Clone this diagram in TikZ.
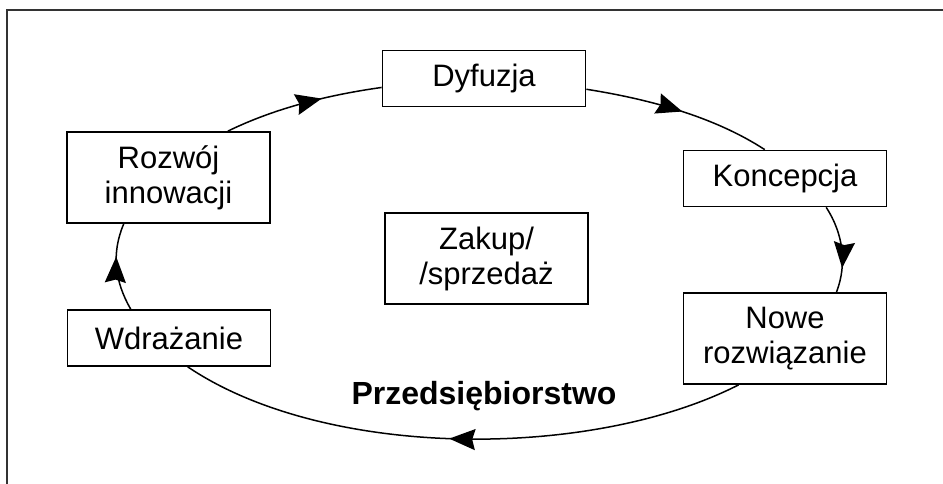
\documentclass[tikz,border=0pt]{standalone}
\usepackage{fontspec}
\setmainfont{Liberation Sans}
\usetikzlibrary{arrows.meta, positioning, decorations.markings}
\tikzset{
  stage/.style  = {draw, line width=1.7pt, minimum width=203pt, minimum height=56pt,
                   align=center, inner sep=4pt, font=\fontsize{31}{35}\selectfont},
  tall/.style   = {minimum height=91pt},
  flow/.style   = {line width=1.5pt, postaction={decorate},
                   decoration={markings, mark=at position #1 with
                     {\arrow{Stealth[length=26pt, width=21pt, inset=3pt]}}}},
  flow/.default = 0.5,
}

\begin{document}
\begin{tikzpicture}[x=1pt, y=1pt]
  \useasboundingbox (0,0) rectangle (943,484);
  \draw[line width=1.6pt, black!80] (7,0) -- (7,474) -- (943,474);

  \node[stage] (dyf) at (484,405.5) {Dyfuzja};
  \node[stage, tall] (roz) at (168.5,306.5) {Rozwój\\innowacji};
  \node[stage] (kon) at (785,305.5) {Koncepcja};
  \node[stage, tall] (nowe) at (785,145.5) {Nowe\\rozwiązanie};
  \node[stage] (wdr) at (169,146) {Wdrażanie};
  \node[stage, tall] (zak) at (486.5,225.5) {Zakup/\\/sprzedaż};
  \node[font=\bfseries\fontsize{32}{38}\selectfont, anchor=base] (firma) at (484,79)
    {Przedsiębiorstwo};

  % the cycle
  \draw[flow=0.62] (roz.38) to[out=26, in=188, looseness=0.85] (dyf.185);
  \draw[flow=0.52] (dyf.-6) to[out=-9, in=147, looseness=0.84] (kon.125);
  \draw[flow=0.72] (kon.-35) to[out=-57, in=69, looseness=0.92] (nowe.42);
  \draw[flow=0.52] (nowe.225) to[out=207, in=-34, looseness=0.77] (wdr.-57);
  \draw[flow=0.62] (wdr.143) to[out=120, in=247, looseness=0.96] (roz.226);
\end{tikzpicture}
\end{document}
